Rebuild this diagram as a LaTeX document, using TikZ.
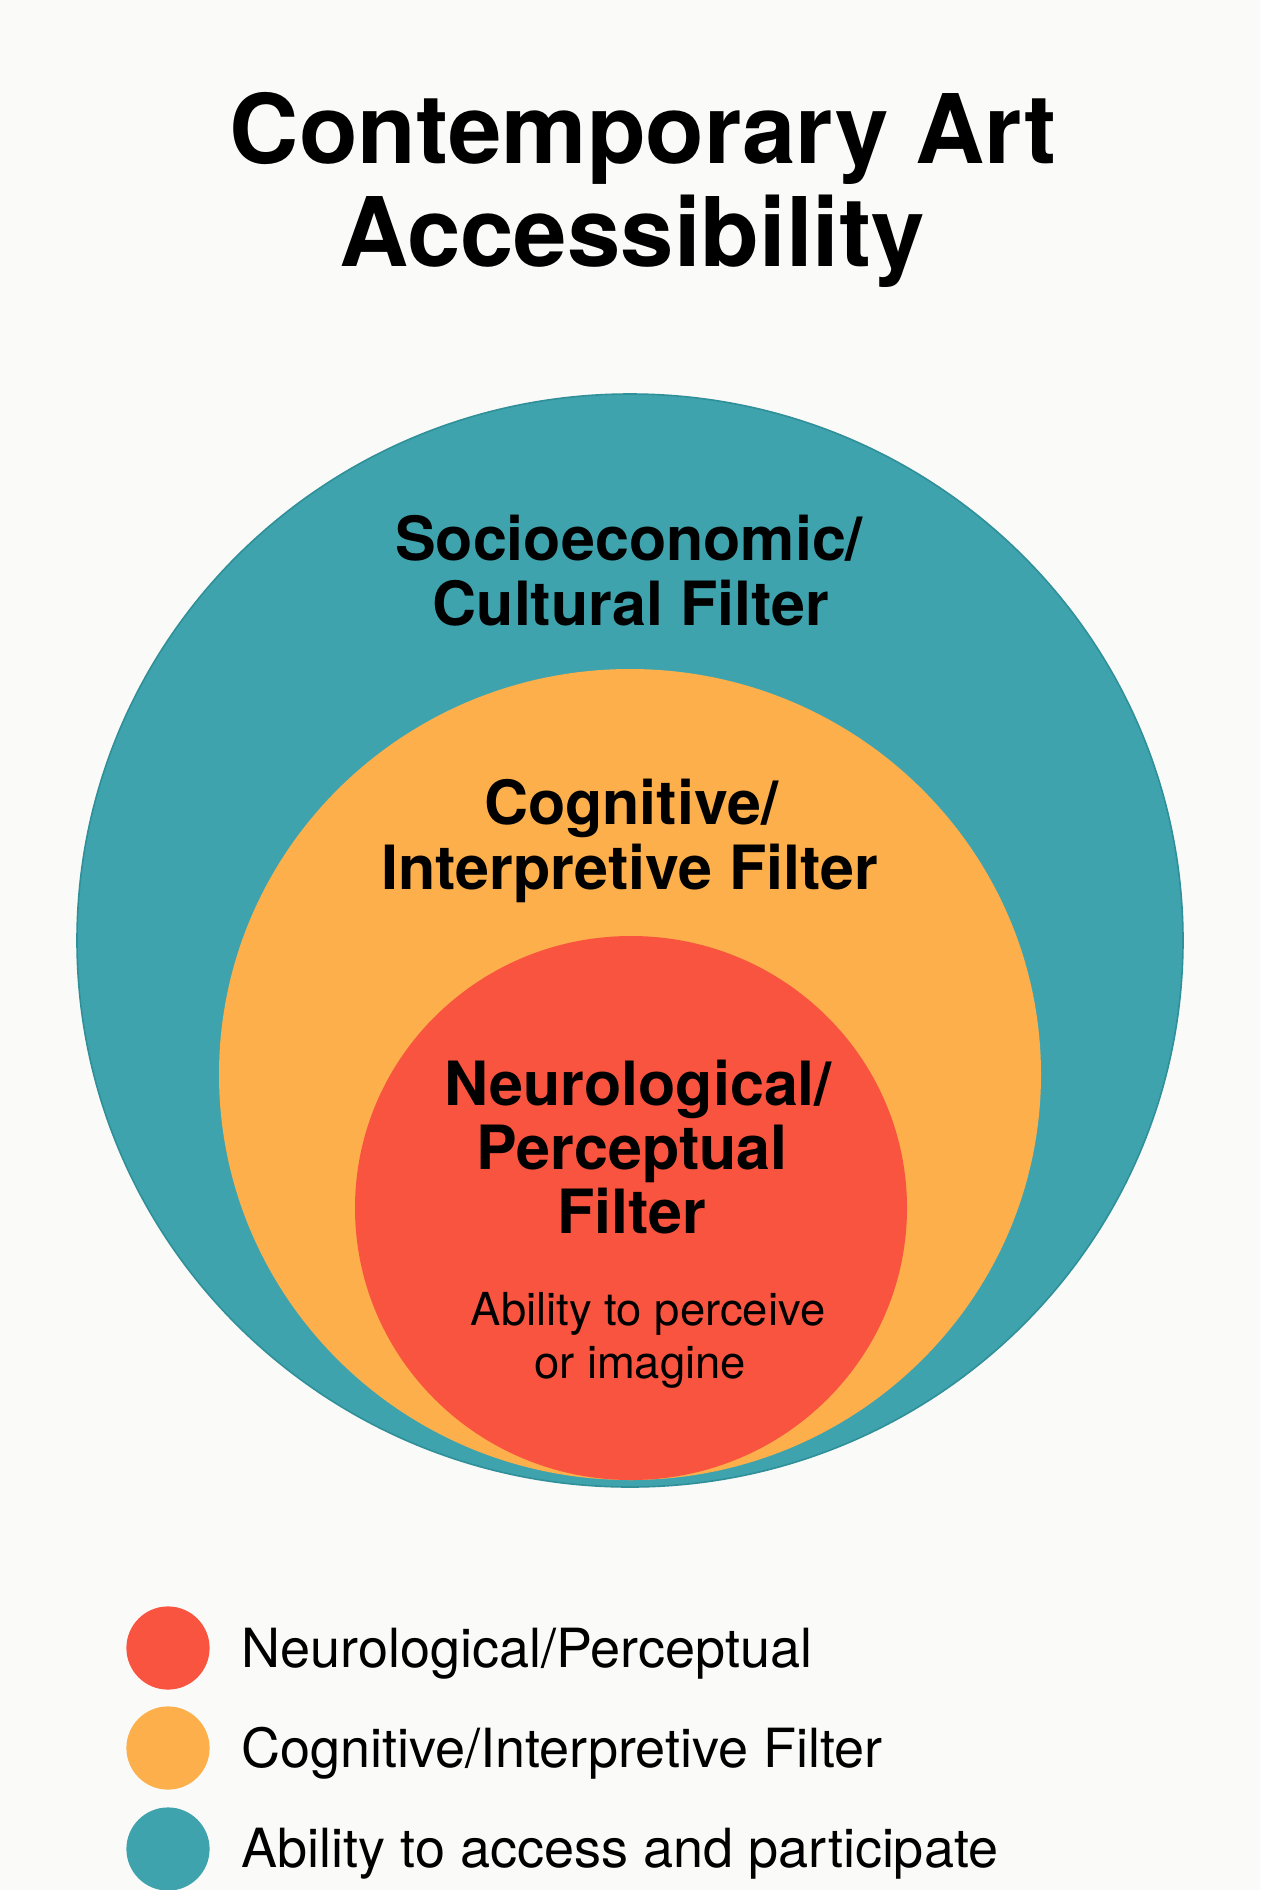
\documentclass[tikz,border=0pt]{standalone}
\usepackage{fontspec}
\setmainfont{TeX Gyre Heros}
\definecolor{bgc}{HTML}{FAFAF8}
\definecolor{tealc}{HTML}{3FA3AE}
\definecolor{tealedge}{HTML}{2F9099}
\definecolor{orangec}{HTML}{FCAF4B}
\definecolor{redc}{HTML}{F8543F}
\tikzset{
  titletext/.style={font=\fontsize{48}{51}\selectfont\bfseries, anchor=base, inner sep=0pt},
  ringlabel/.style={font=\fontsize{30.5}{32}\selectfont\bfseries, anchor=base, inner sep=0pt},
  subtext/.style={font=\fontsize{22.7}{27}\selectfont, anchor=base, inner sep=0pt},
  legendtext/.style={font=\fontsize{27}{30}\selectfont, anchor=base west, inner sep=0pt},
  legenddot/.style={circle, minimum size=41.6pt, inner sep=0pt}
}
\begin{document}
\begin{tikzpicture}[x=0.5pt,y=-0.5pt]
\fill[bgc] (0,0) rectangle (1260,1890);
\useasboundingbox (0,0) rectangle (1260,1890);
% circles
\fill[tealc, draw=tealedge, line width=0.8pt] (630,940.5) ellipse [x radius=553, y radius=546.5];
\fill[orangec] (630,1074.5) ellipse [x radius=411, y radius=405.5];
\fill[redc] (631,1208) ellipse [x radius=276, y radius=272];
% title
\node[titletext] (t1) at (643,163) {Contemporary Art};
\node[titletext] (t2) at (632,266) {Accessibility};
% outer label
\node[ringlabel] (s1) at (629,560) {Socioeconomic/};
\node[ringlabel] (s2) at (631,625) {Cultural Filter};
% middle label
\node[ringlabel] (c1) at (631,824) {Cognitive/};
\node[ringlabel] (c2) at (630,889) {Interpretive Filter};
% inner label
\node[ringlabel] (n1) at (638,1105) {Neurological/};
\node[ringlabel] (n2) at (632,1169) {Perceptual};
\node[ringlabel] (n3) at (632,1233) {Filter};
\node[subtext] (a1) at (648,1325) {Ability to perceive};
\node[subtext] (a2) at (640,1378) {or imagine};
% legend
\node[legenddot, fill=redc] (d1) at (168,1648) {};
\node[legenddot, fill=orangec] (d2) at (168,1748) {};
\node[legenddot, fill=tealc] (d3) at (168,1849) {};
\node[legendtext] (l1) at (241,1667) {Neurological/Perceptual};
\node[legendtext] (l2) at (241,1767) {Cognitive/Interpretive Filter};
\node[legendtext] (l3) at (241,1867) {Ability to access and participate};
\end{tikzpicture}
\end{document}
